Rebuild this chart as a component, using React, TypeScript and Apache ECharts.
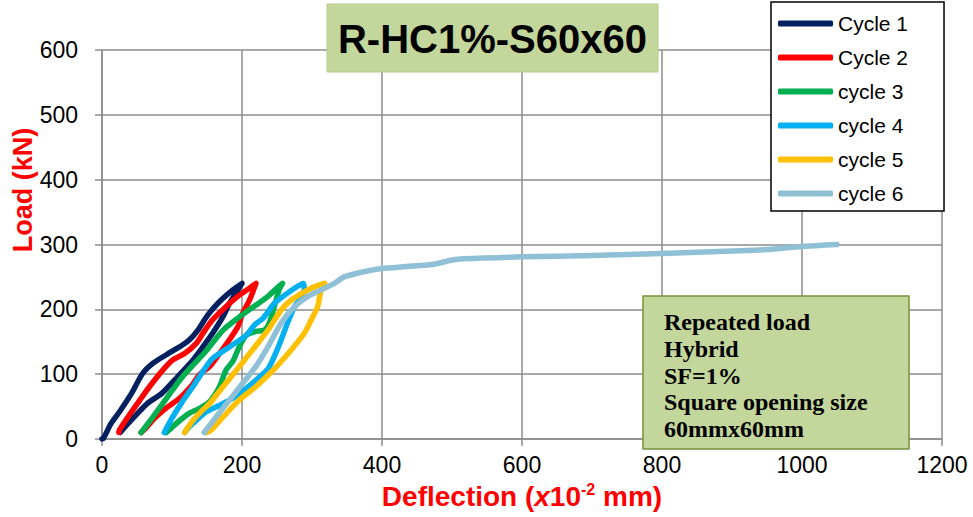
import React, { useEffect, useRef } from "react";
import * as echarts from "echarts";

const seriesNames = ["Cycle 1", "Cycle 2", "cycle 3", "cycle 4", "cycle 5", "cycle 6"];
const seriesColors = ["#002060", "#ff0000", "#00b050", "#00b0f0", "#ffc000", "#8fc0d5"];

const cycle1Defl = [0, 2, 13, 25, 42, 58, 73, 92, 115, 125, 137, 151, 168, 187, 200, 193, 182, 173, 158, 144, 130, 108, 85, 65, 46, 30, 26];
const cycle1Load = [0, 1, 24, 42, 70, 101, 117, 130, 145, 153, 168, 191, 212, 230, 240, 228, 209, 189, 163, 142, 122, 96, 70, 55, 34, 15, 10];

const cycle2Defl = [24, 25, 39, 54, 68, 85, 101, 118, 135, 144, 158, 177, 194, 211, 220, 211, 201, 194, 182, 168, 154, 140, 127, 110, 92, 75, 62, 56];
const cycle2Load = [10, 14, 37, 60, 81, 104, 122, 132, 148, 163, 184, 204, 220, 233, 240, 215, 194, 173, 153, 132, 112, 100, 81, 62, 48, 32, 16, 10];

const cycle3Defl = [56, 70, 87, 101, 115, 130, 149, 173, 196, 218, 237, 251, 258, 253, 246, 239, 232, 220, 206, 196, 187, 177, 168, 154, 139, 125, 115, 101, 92];
const cycle3Load = [10, 30, 55, 76, 96, 114, 136, 168, 188, 205, 220, 234, 240, 230, 204, 179, 168, 166, 160, 142, 120, 106, 81, 58, 47, 40, 32, 19, 10];

const cycle4Defl = [89, 101, 115, 130, 144, 158, 182, 206, 218, 230, 246, 265, 280, 288, 289, 275, 265, 256, 246, 237, 220, 206, 187, 168, 149, 135, 125, 118];
const cycle4Load = [10, 34, 58, 81, 104, 124, 142, 160, 176, 186, 209, 225, 236, 240, 230, 204, 179, 153, 127, 108, 91, 78, 63, 52, 42, 29, 19, 10];

const cycle5Defl = [118, 130, 144, 154, 173, 192, 211, 237, 256, 270, 289, 304, 318, 313, 308, 299, 289, 270, 246, 220, 196, 173, 156, 150];
const cycle5Load = [10, 29, 45, 55, 81, 106, 132, 168, 199, 214, 227, 235, 240, 230, 204, 184, 163, 137, 108, 81, 60, 34, 14, 10];

const cycle6Defl = [146, 163, 182, 201, 220, 236, 256, 275, 294, 313, 332, 346, 374, 400, 435, 476, 500, 516, 600, 700, 800, 900, 945, 1000, 1050];
const cycle6Load = [10, 34, 60, 86, 112, 140, 179, 204, 220, 230, 240, 250, 258, 263, 266, 270, 276, 278, 281, 283, 286, 290, 292, 297, 300];

const deflections = [cycle1Defl, cycle2Defl, cycle3Defl, cycle4Defl, cycle5Defl, cycle6Defl];
const loads = [cycle1Load, cycle2Load, cycle3Load, cycle4Load, cycle5Load, cycle6Load];

const titleText = "R-HC1%-S60x60";
const noteLines = ["Repeated load", "Hybrid", "SF=1%", "Square opening size", "60mmx60mm"];

const SANS = "'Liberation Sans', Arial, sans-serif";
const SERIF = "'Liberation Serif', 'Times New Roman', serif";
const GRID_COLOR = "#8c8c8c";

export default function App() {
  const ref = useRef<HTMLDivElement>(null);
  useEffect(() => {
    const chart = echarts.init(ref.current!, null, { renderer: "svg" });
    const series = seriesNames.map((name, i) => ({
      name,
      type: "line",
      data: deflections[i].map((d, k) => [d, loads[i][k]]),
      showSymbol: false,
      symbol: "none",
      smooth: 0.25,
      lineStyle: { color: seriesColors[i], width: 5.5, cap: "round", join: "round" },
      itemStyle: { color: seriesColors[i] },
      z: 2 + i,
    }));
    chart.setOption({
      animation: false,
      backgroundColor: "#ffffff",
      grid: { left: 102, right: 31, top: 50, bottom: 78, containLabel: false, outerBoundsMode: "none" },
      xAxis: {
        type: "value",
        min: 0,
        max: 1200,
        interval: 200,
        axisLine: { show: true, lineStyle: { color: GRID_COLOR, width: 1.5 } },
        axisTick: { show: true, inside: false, length: 7, lineStyle: { color: GRID_COLOR, width: 1.5 } },
        splitLine: { show: true, lineStyle: { color: GRID_COLOR, width: 1.5 } },
        axisLabel: { color: "#000", fontSize: 23, fontFamily: SANS, margin: 14, formatter: (v: number) => String(v) },
        name: "{a|Deflection (}{i|x}{a|10}{s|-2}{a| mm)}",
        nameLocation: "middle",
        nameGap: 42,
        nameTextStyle: {
          rich: {
            a: { color: "#ff0000", fontSize: 28, fontWeight: "bold", fontFamily: SANS },
            i: { color: "#ff0000", fontSize: 28, fontWeight: "bold", fontStyle: "italic", fontFamily: SANS },
            s: { color: "#ff0000", fontSize: 16, fontWeight: "bold", fontFamily: SANS, padding: [0, 0, 14, 0] },
          },
        },
      },
      yAxis: {
        type: "value",
        min: 0,
        max: 600,
        interval: 100,
        axisLine: { show: true, lineStyle: { color: GRID_COLOR, width: 1.5 } },
        axisTick: { show: true, inside: false, length: 7, lineStyle: { color: GRID_COLOR, width: 1.5 } },
        splitLine: { show: true, lineStyle: { color: GRID_COLOR, width: 1.5 } },
        axisLabel: { color: "#000", fontSize: 23, fontFamily: SANS, margin: 24 },
      },
      legend: {
        orient: "vertical",
        left: 771,
        top: 2,
        itemWidth: 55,
        itemHeight: 6,
        itemGap: 13,
        icon: "roundRect",
        padding: [11, 36, 7, 7],
        borderColor: "#000",
        borderWidth: 1.5,
        backgroundColor: "#ffffff",
        textStyle: { color: "#000", fontSize: 21, fontFamily: SANS },
        data: seriesNames,
        z: 20,
      },
      graphic: [
        {
          type: "rect",
          shape: { x: 327, y: 4, width: 331, height: 68 },
          style: { fill: "#c3d69b", stroke: "#b5cb8a", lineWidth: 1 },
          z: 30,
        },
        {
          type: "text",
          x: 492.5,
          y: 39,
          style: {
            text: titleText,
            fill: "#000",
            font: `bold 40px ${SANS}`,
            textAlign: "center",
            textVerticalAlign: "middle",
          },
          z: 31,
        },
        {
          type: "rect",
          shape: { x: 643, y: 296, width: 266, height: 153 },
          style: { fill: "#c3d69b", stroke: "#77933c", lineWidth: 1.5 },
          z: 30,
        },
        {
          type: "text",
          x: 664,
          y: 309,
          style: {
            text: noteLines.join("\n"),
            fill: "#000",
            font: `bold 24px ${SERIF}`,
            lineHeight: 26.7,
            textAlign: "left",
            textVerticalAlign: "top",
          },
          z: 31,
        },
        {
          type: "text",
          x: 23,
          y: 190,
          rotation: Math.PI / 2,
          style: {
            text: "Load (kN)",
            fill: "#ff0000",
            font: `bold 27px ${SANS}`,
            textAlign: "center",
            textVerticalAlign: "middle",
          },
          z: 31,
        },
      ],
      series,
    });
    return () => chart.dispose();
  }, []);
  return <div ref={ref} style={{ position: "fixed", left: 0, top: 0, width: 973, height: 517 }} />;
}
